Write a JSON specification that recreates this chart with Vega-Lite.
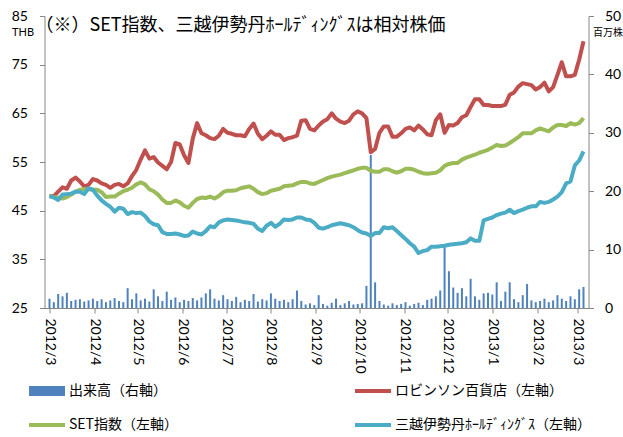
{
  "$schema": "https://vega.github.io/schema/vega-lite/v6.json",
  "width": 544,
  "height": 292,
  "autosize": {"type": "none"},
  "padding": {"left": 44.5, "top": 16, "right": 34.5, "bottom": 129},
  "background": "white",
  "config": {"view": {"stroke": null}, "font": "Lato, 'Noto Sans CJK JP'"},
  "title": {
    "text": "（※）SET指数、三越伊勢丹ﾎｰﾙﾃﾞｨﾝｸﾞｽは相対株価",
    "anchor": "start", "frame": "group", "fontSize": 18, "fontWeight": "normal",
    "font": "'Noto Sans CJK JP'", "color": "#000", "offset": -44, "dx": -9, "baseline": "bottom"
  },
  "data": {"values": [
    {"date":"2012-03-01","robinson":48,"set":48,"mitsukoshi":48,"volume":1.6},
    {"date":"2012-03-04","robinson":48,"set":47.8,"mitsukoshi":47.7,"volume":1.0},
    {"date":"2012-03-07","robinson":48.9,"set":47.7,"mitsukoshi":47.2,"volume":2.4},
    {"date":"2012-03-10","robinson":49.8,"set":47.5,"mitsukoshi":48.3,"volume":2.0},
    {"date":"2012-03-13","robinson":49.5,"set":47.8,"mitsukoshi":48.4,"volume":2.6},
    {"date":"2012-03-16","robinson":51.2,"set":48.3,"mitsukoshi":48.5,"volume":1.2},
    {"date":"2012-03-19","robinson":51.8,"set":48.9,"mitsukoshi":48.9,"volume":1.4},
    {"date":"2012-03-22","robinson":51.0,"set":49.3,"mitsukoshi":48.9,"volume":1.5},
    {"date":"2012-03-25","robinson":50.0,"set":49.4,"mitsukoshi":48.4,"volume":1.1},
    {"date":"2012-03-28","robinson":50.3,"set":49.4,"mitsukoshi":49.6,"volume":1.3},
    {"date":"2012-03-31","robinson":51.5,"set":49.3,"mitsukoshi":49.3,"volume":1.6},
    {"date":"2012-04-03","robinson":51.2,"set":49.3,"mitsukoshi":48.1,"volume":1.2},
    {"date":"2012-04-06","robinson":50.6,"set":48.8,"mitsukoshi":47.1,"volume":1.5},
    {"date":"2012-04-09","robinson":50.3,"set":47.8,"mitsukoshi":46.4,"volume":1.0},
    {"date":"2012-04-12","robinson":49.7,"set":47.9,"mitsukoshi":45.8,"volume":1.3},
    {"date":"2012-04-15","robinson":50.3,"set":47.9,"mitsukoshi":44.8,"volume":1.7},
    {"date":"2012-04-18","robinson":50.5,"set":48.5,"mitsukoshi":45.6,"volume":1.2},
    {"date":"2012-04-21","robinson":50.0,"set":49.0,"mitsukoshi":45.4,"volume":1.0},
    {"date":"2012-04-24","robinson":50.6,"set":49.3,"mitsukoshi":44.3,"volume":3.4},
    {"date":"2012-04-27","robinson":52.1,"set":49.7,"mitsukoshi":44.7,"volume":1.5},
    {"date":"2012-04-30","robinson":53.4,"set":50.4,"mitsukoshi":44.5,"volume":2.5},
    {"date":"2012-05-03","robinson":55.5,"set":50.8,"mitsukoshi":44.6,"volume":1.3},
    {"date":"2012-05-06","robinson":57.4,"set":50.4,"mitsukoshi":43.9,"volume":1.6},
    {"date":"2012-05-09","robinson":55.7,"set":49.4,"mitsukoshi":42.8,"volume":1.1},
    {"date":"2012-05-12","robinson":56.0,"set":49.0,"mitsukoshi":42.2,"volume":3.2},
    {"date":"2012-05-15","robinson":54.9,"set":48.3,"mitsukoshi":42.0,"volume":2.0},
    {"date":"2012-05-18","robinson":54.2,"set":47.3,"mitsukoshi":40.6,"volume":1.2},
    {"date":"2012-05-21","robinson":53.5,"set":46.6,"mitsukoshi":40.2,"volume":2.8},
    {"date":"2012-05-24","robinson":55.0,"set":46.6,"mitsukoshi":40.2,"volume":1.4},
    {"date":"2012-05-27","robinson":58.9,"set":47.1,"mitsukoshi":40.3,"volume":1.8},
    {"date":"2012-05-30","robinson":58.6,"set":46.7,"mitsukoshi":40.1,"volume":1.0},
    {"date":"2012-06-02","robinson":56.4,"set":46.0,"mitsukoshi":39.8,"volume":1.4},
    {"date":"2012-06-05","robinson":54.8,"set":45.6,"mitsukoshi":39.9,"volume":1.2},
    {"date":"2012-06-08","robinson":59.8,"set":46.6,"mitsukoshi":40.7,"volume":1.7},
    {"date":"2012-06-11","robinson":63.0,"set":47.4,"mitsukoshi":40.3,"volume":1.3},
    {"date":"2012-06-14","robinson":60.9,"set":47.7,"mitsukoshi":40.1,"volume":1.8},
    {"date":"2012-06-17","robinson":60.5,"set":47.6,"mitsukoshi":40.8,"volume":2.5},
    {"date":"2012-06-20","robinson":59.9,"set":47.9,"mitsukoshi":41.8,"volume":3.2},
    {"date":"2012-06-23","robinson":59.7,"set":47.5,"mitsukoshi":41.6,"volume":1.6},
    {"date":"2012-06-26","robinson":60.4,"set":48.0,"mitsukoshi":42.6,"volume":1.3},
    {"date":"2012-06-29","robinson":61.8,"set":48.8,"mitsukoshi":43.0,"volume":2.2},
    {"date":"2012-07-02","robinson":61.0,"set":49.1,"mitsukoshi":43.2,"volume":1.5},
    {"date":"2012-07-05","robinson":60.8,"set":49.1,"mitsukoshi":43.1,"volume":1.2},
    {"date":"2012-07-08","robinson":60.5,"set":49.2,"mitsukoshi":43.0,"volume":1.9},
    {"date":"2012-07-11","robinson":60.5,"set":49.6,"mitsukoshi":42.8,"volume":1.0},
    {"date":"2012-07-14","robinson":60.3,"set":49.8,"mitsukoshi":42.6,"volume":1.4},
    {"date":"2012-07-17","robinson":61.8,"set":50.0,"mitsukoshi":42.5,"volume":1.2},
    {"date":"2012-07-20","robinson":62.9,"set":49.5,"mitsukoshi":42.3,"volume":2.4},
    {"date":"2012-07-23","robinson":60.8,"set":48.8,"mitsukoshi":41.3,"volume":1.1},
    {"date":"2012-07-26","robinson":59.7,"set":48.4,"mitsukoshi":40.8,"volume":1.5},
    {"date":"2012-07-29","robinson":60.4,"set":48.6,"mitsukoshi":41.9,"volume":1.3},
    {"date":"2012-08-01","robinson":61.3,"set":49.1,"mitsukoshi":42.5,"volume":2.5},
    {"date":"2012-08-04","robinson":60.6,"set":49.3,"mitsukoshi":41.7,"volume":1.6},
    {"date":"2012-08-07","robinson":60.6,"set":49.5,"mitsukoshi":42.3,"volume":1.2},
    {"date":"2012-08-10","robinson":59.5,"set":50.0,"mitsukoshi":43.2,"volume":1.4},
    {"date":"2012-08-13","robinson":59.9,"set":50.1,"mitsukoshi":43.1,"volume":1.0},
    {"date":"2012-08-16","robinson":60.1,"set":50.2,"mitsukoshi":43.2,"volume":1.5},
    {"date":"2012-08-19","robinson":60.4,"set":50.6,"mitsukoshi":43.6,"volume":3.0},
    {"date":"2012-08-22","robinson":63.5,"set":50.9,"mitsukoshi":43.6,"volume":1.2},
    {"date":"2012-08-25","robinson":63.6,"set":50.9,"mitsukoshi":43.2,"volume":0.6},
    {"date":"2012-08-28","robinson":61.8,"set":50.6,"mitsukoshi":43.1,"volume":0.8},
    {"date":"2012-08-31","robinson":61.5,"set":50.5,"mitsukoshi":42.5,"volume":0.5},
    {"date":"2012-09-03","robinson":62.5,"set":50.9,"mitsukoshi":41.5,"volume":2.2},
    {"date":"2012-09-06","robinson":63.3,"set":51.3,"mitsukoshi":41.3,"volume":0.7},
    {"date":"2012-09-09","robinson":63.8,"set":51.7,"mitsukoshi":41.6,"volume":0.4},
    {"date":"2012-09-12","robinson":65.0,"set":52.0,"mitsukoshi":42.0,"volume":0.9},
    {"date":"2012-09-15","robinson":63.9,"set":52.2,"mitsukoshi":42.2,"volume":1.6},
    {"date":"2012-09-18","robinson":63.3,"set":52.4,"mitsukoshi":42.4,"volume":0.5},
    {"date":"2012-09-21","robinson":63.0,"set":52.7,"mitsukoshi":42.2,"volume":0.8},
    {"date":"2012-09-24","robinson":63.5,"set":53.0,"mitsukoshi":42.0,"volume":1.2},
    {"date":"2012-09-27","robinson":64.8,"set":53.3,"mitsukoshi":41.6,"volume":0.6},
    {"date":"2012-09-30","robinson":65.4,"set":53.6,"mitsukoshi":41.0,"volume":0.7},
    {"date":"2012-10-03","robinson":65.0,"set":53.8,"mitsukoshi":40.5,"volume":0.8},
    {"date":"2012-10-06","robinson":64.0,"set":53.8,"mitsukoshi":40.3,"volume":3.8},
    {"date":"2012-10-09","robinson":57.0,"set":53.2,"mitsukoshi":39.8,"volume":26.2},
    {"date":"2012-10-12","robinson":57.7,"set":53.0,"mitsukoshi":40.4,"volume":4.4},
    {"date":"2012-10-15","robinson":61.0,"set":53.0,"mitsukoshi":40.4,"volume":1.2},
    {"date":"2012-10-18","robinson":62.3,"set":53.5,"mitsukoshi":41.6,"volume":0.6},
    {"date":"2012-10-21","robinson":62.3,"set":53.5,"mitsukoshi":41.4,"volume":0.4},
    {"date":"2012-10-24","robinson":60.2,"set":53.1,"mitsukoshi":41.6,"volume":0.8},
    {"date":"2012-10-27","robinson":60.2,"set":52.8,"mitsukoshi":40.8,"volume":0.5},
    {"date":"2012-10-30","robinson":60.9,"set":53.1,"mitsukoshi":40.0,"volume":0.7},
    {"date":"2012-11-02","robinson":61.8,"set":53.6,"mitsukoshi":39.2,"volume":1.0},
    {"date":"2012-11-05","robinson":62.1,"set":53.6,"mitsukoshi":38.3,"volume":0.4},
    {"date":"2012-11-08","robinson":61.5,"set":53.4,"mitsukoshi":37.6,"volume":0.7},
    {"date":"2012-11-11","robinson":62.5,"set":53.0,"mitsukoshi":36.3,"volume":0.9},
    {"date":"2012-11-14","robinson":61.7,"set":52.7,"mitsukoshi":36.7,"volume":0.5},
    {"date":"2012-11-17","robinson":60.7,"set":52.6,"mitsukoshi":36.9,"volume":1.4},
    {"date":"2012-11-20","robinson":60.5,"set":52.7,"mitsukoshi":37.6,"volume":1.6},
    {"date":"2012-11-23","robinson":63.6,"set":52.8,"mitsukoshi":37.6,"volume":2.0},
    {"date":"2012-11-26","robinson":64.8,"set":53.3,"mitsukoshi":37.7,"volume":3.0},
    {"date":"2012-11-29","robinson":61.0,"set":54.2,"mitsukoshi":37.8,"volume":10.5},
    {"date":"2012-12-02","robinson":62.6,"set":54.6,"mitsukoshi":38.0,"volume":6.3},
    {"date":"2012-12-05","robinson":62.5,"set":54.8,"mitsukoshi":38.1,"volume":3.5},
    {"date":"2012-12-08","robinson":63.0,"set":54.8,"mitsukoshi":38.2,"volume":2.6},
    {"date":"2012-12-11","robinson":64.2,"set":55.5,"mitsukoshi":38.3,"volume":3.4},
    {"date":"2012-12-14","robinson":64.6,"set":55.9,"mitsukoshi":38.5,"volume":2.0},
    {"date":"2012-12-17","robinson":66.3,"set":56.2,"mitsukoshi":39.3,"volume":5.0},
    {"date":"2012-12-20","robinson":67.9,"set":56.5,"mitsukoshi":38.8,"volume":2.0},
    {"date":"2012-12-23","robinson":67.9,"set":56.9,"mitsukoshi":38.8,"volume":1.4},
    {"date":"2012-12-26","robinson":66.7,"set":57.2,"mitsukoshi":43.0,"volume":2.5},
    {"date":"2012-12-29","robinson":66.7,"set":57.5,"mitsukoshi":43.3,"volume":2.6},
    {"date":"2013-01-01","robinson":66.5,"set":58.0,"mitsukoshi":43.6,"volume":2.3},
    {"date":"2013-01-04","robinson":66.5,"set":58.5,"mitsukoshi":44.1,"volume":4.4},
    {"date":"2013-01-07","robinson":66.5,"set":58.3,"mitsukoshi":44.4,"volume":1.2},
    {"date":"2013-01-10","robinson":66.8,"set":58.4,"mitsukoshi":44.6,"volume":2.8},
    {"date":"2013-01-13","robinson":68.8,"set":58.9,"mitsukoshi":45.2,"volume":4.4},
    {"date":"2013-01-16","robinson":69.3,"set":59.5,"mitsukoshi":44.5,"volume":1.5},
    {"date":"2013-01-19","robinson":70.5,"set":60.1,"mitsukoshi":44.9,"volume":1.0},
    {"date":"2013-01-22","robinson":71.2,"set":60.9,"mitsukoshi":45.2,"volume":2.2},
    {"date":"2013-01-25","robinson":71.0,"set":60.9,"mitsukoshi":45.6,"volume":4.1},
    {"date":"2013-01-28","robinson":70.8,"set":60.9,"mitsukoshi":45.9,"volume":1.3},
    {"date":"2013-01-31","robinson":69.9,"set":61.5,"mitsukoshi":45.9,"volume":1.0},
    {"date":"2013-02-03","robinson":70.4,"set":61.9,"mitsukoshi":46.8,"volume":1.2},
    {"date":"2013-02-06","robinson":71.3,"set":61.6,"mitsukoshi":46.6,"volume":1.6},
    {"date":"2013-02-09","robinson":69.5,"set":61.3,"mitsukoshi":46.8,"volume":1.0},
    {"date":"2013-02-12","robinson":70.4,"set":62.1,"mitsukoshi":47.3,"volume":1.3},
    {"date":"2013-02-15","robinson":72.9,"set":62.6,"mitsukoshi":47.9,"volume":2.2},
    {"date":"2013-02-18","robinson":75.5,"set":62.6,"mitsukoshi":48.8,"volume":1.6},
    {"date":"2013-02-21","robinson":72.6,"set":62.4,"mitsukoshi":50.6,"volume":1.2},
    {"date":"2013-02-24","robinson":72.6,"set":63.0,"mitsukoshi":51.0,"volume":2.0},
    {"date":"2013-02-27","robinson":72.9,"set":62.7,"mitsukoshi":54.3,"volume":1.5},
    {"date":"2013-03-02","robinson":76.0,"set":63.0,"mitsukoshi":55.3,"volume":3.2},
    {"date":"2013-03-05","robinson":79.8,"set":64.0,"mitsukoshi":57.2,"volume":3.6}
  ]},
  "encoding": {
    "x": {
      "field": "date", "type": "temporal",
      "scale": {"type": "utc", "domain": [{"year": 2012, "month": 3, "date": 1, "utc": true}, {"year": 2013, "month": 3, "date": 5, "utc": true}]},
      "axis": {
        "labelExpr": "utcFormat(datum.value, '%Y/%-m')", "tickCount": {"interval": "month", "step": 1},
        "labelAngle": 90, "labelAlign": "left", "labelBaseline": "middle", "labelFontSize": 14,
        "labelColor": "#000", "labelPadding": 5, "tickSize": 5, "domainColor": "#868686",
        "tickColor": "#868686", "grid": false, "title": null, "labelOverlap": false, "labelFlush": false
      }
    }
  },
  "layer": [
    {
      "mark": {"type": "bar", "width": 2},
      "encoding": {
        "y": {
          "field": "volume", "type": "quantitative", "scale": {"domain": [0, 50]},
          "axis": {
            "orient": "right", "values": [0, 10, 20, 30, 40, 50], "labelFontSize": 14, "labelColor": "#000",
            "tickSize": 5, "labelPadding": 11, "domainColor": "#868686", "tickColor": "#868686", "grid": false,
            "labelFlush": false, "title": "百万株", "titleAngle": 0, "titleX": 19, "titleY": 16, "titleFontSize": 10,
            "titleFontWeight": "normal", "titleAlign": "center", "titleBaseline": "middle", "titleColor": "#000",
            "titleFont": "'Noto Sans CJK JP'"
          }
        },
        "color": {"datum": "volume"}
      }
    },
    {
      "transform": [{"fold": ["robinson", "set", "mitsukoshi"], "as": ["series", "price"]}],
      "mark": {"type": "line", "strokeWidth": 4, "strokeJoin": "round"},
      "encoding": {
        "y": {
          "field": "price", "type": "quantitative", "scale": {"domain": [25, 85]},
          "axis": {
            "orient": "left", "values": [25, 35, 45, 55, 65, 75, 85], "labelFontSize": 14, "labelColor": "#000",
            "tickSize": 5, "labelPadding": 12, "domainColor": "#868686", "tickColor": "#868686", "grid": false,
            "labelFlush": false, "title": "THB", "titleAngle": 0, "titleX": -22, "titleY": 16, "titleFontSize": 11,
            "titleFontWeight": "normal", "titleAlign": "center", "titleBaseline": "middle", "titleColor": "#000"
          }
        },
        "color": {
          "field": "series", "type": "nominal",
          "scale": {"domain": ["volume", "robinson", "set", "mitsukoshi"], "range": ["#4F81BD", "#C0504D", "#9BBB59", "#4BACC6"]},
          "legend": {
            "title": null, "orient": "none", "legendX": -15.5, "legendY": 357, "columns": 2, "direction": "horizontal",
            "symbolSize": 1296, "labelFontSize": 14, "labelColor": "#000", "labelFont": "'Noto Sans CJK JP'",
            "rowPadding": 9, "columnPadding": 177, "labelOffset": 4, "labelLimit": 400,
            "labelExpr": "{'volume': '出来高（右軸）', 'robinson': 'ロビンソン百貨店（左軸）', 'set': 'SET指数（左軸）', 'mitsukoshi': '三越伊勢丹ﾎｰﾙﾃﾞｨﾝｸﾞｽ（左軸）'}[datum.value]",
            "encode": {
              "symbols": {
                "update": {
                  "shape": {"signal": "datum.value === 'volume' ? 'M-1,-0.28H1V0.28H-1Z' : 'M-1,-0.11H1V0.11H-1Z'"},
                  "fill": {"signal": "scale('color', datum.value)"},
                  "stroke": {"value": "transparent"},
                  "strokeWidth": {"value": 0},
                  "opacity": {"value": 1}
                }
              }
            }
          }
        }
      }
    }
  ],
  "resolve": {"scale": {"y": "independent"}}
}
